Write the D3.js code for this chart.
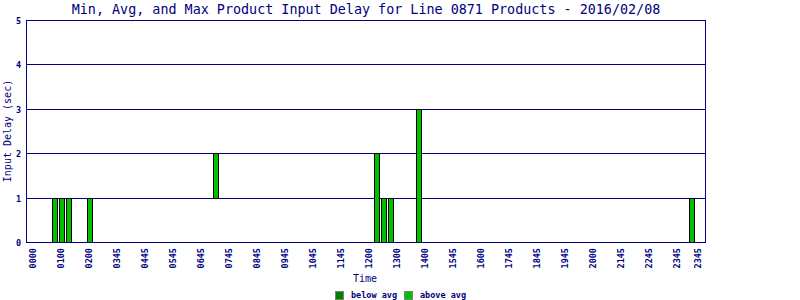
<!DOCTYPE html>
<html>
<head>
<meta charset="utf-8">
<script src="https://cdn.jsdelivr.net/npm/d3@7"></script>
<style>
  body { margin: 0; background: #ffffff; }
  svg { display: block; }
</style>
</head>
<body>
<svg id="svg_chart" width="800" height="300"></svg>
<script>

var chartTitle = "Min, Avg, and Max Product Input Delay for Line 0871 Products - 2016/02/08"
var slotCount = 96
var tickSlots  = [0, 4, 8, 12, 16, 20, 24, 28, 32, 36, 40, 44, 48, 52, 56, 60, 64, 68, 72, 76, 80, 84, 88, 92, 95]
var tickLabels = ["0000","0100","0200","0345","0445","0545","0645","0745","0845","0945","1045","1145",
                  "1200","1300","1400","1545","1600","1745","1845","1945","2000","2145","2245","2345","2345"]
var yTicks = [0, 1, 2, 3, 4, 5]

var barSlots = [3, 4, 5, 8, 26, 49, 50, 51, 55, 94]
var minVals  = [0, 0, 0, 0, 1, 0, 0, 0, 0, 0]
var avgVals  = [0, 0, 0, 0, 1, 0, 0, 0, 0, 0]
var maxVals  = [1, 1, 1, 1, 2, 2, 1, 1, 3, 1]

var legendNames  = ["below avg", "above avg"]
var legendColors = ["#008000", "#00c000"]

var navy = "#000080"
var mono = "'DejaVu Sans Mono', monospace"

var svg = d3.select("#svg_chart")

var plotLeft = 26, plotRight = 705, plotTop = 20, plotBottom = 242

var x = d3.scaleBand()
          .domain(d3.range(slotCount))
          .range([plotLeft + 4, plotRight - 3])

var y = d3.scaleLinear()
          .domain([0, 5])
          .range([plotBottom, plotTop])

var px = v => Math.round(v) + 0.5

svg.append("text")
   .attr("x", 366)
   .attr("y", 14)
   .attr("text-anchor", "middle")
   .attr("font-family", mono)
   .attr("font-size", "13.4px")
   .attr("fill", navy)
   .text(chartTitle)

// gridlines
svg.append("g")
   .selectAll("line")
   .data(yTicks)
   .enter().append("line")
   .attr("x1", plotLeft)
   .attr("x2", plotRight)
   .attr("y1", d => px(y(d)))
   .attr("y2", d => px(y(d)))
   .attr("stroke", navy)
   .attr("stroke-width", 1)

svg.append("g")
   .selectAll("text")
   .data(yTicks)
   .enter().append("text")
   .attr("x", 21)
   .attr("y", d => px(y(d)) + 3)
   .attr("text-anchor", "end")
   .attr("font-family", mono)
   .attr("font-size", "8.5px")
   .attr("font-weight", "bold")
   .attr("fill", navy)
   .text(d => d)

var bars = svg.append("g")

bars.selectAll("rect.below")
    .data(barSlots.map((d, i) => i).filter(i => avgVals[i] > minVals[i]))
    .enter().append("rect")
    .attr("class", "below")
    .attr("x", i => px(x(barSlots[i]) + x.bandwidth() / 2 - 2.5))
    .attr("width", 5)
    .attr("y", i => px(y(avgVals[i])))
    .attr("height", i => px(y(minVals[i])) - px(y(avgVals[i])))
    .attr("fill", legendColors[0])
    .attr("stroke", "#000000")
    .attr("stroke-width", 1)

bars.selectAll("rect.above")
    .data(barSlots)
    .enter().append("rect")
    .attr("class", "above")
    .attr("x", d => px(x(d) + x.bandwidth() / 2 - 2.5))
    .attr("width", 5)
    .attr("y", (d, i) => px(y(maxVals[i])))
    .attr("height", (d, i) => px(y(avgVals[i])) - px(y(maxVals[i])))
    .attr("fill", legendColors[1])
    .attr("stroke", "#000000")
    .attr("stroke-width", 1)

svg.append("rect")
   .attr("x", plotLeft + 0.5)
   .attr("y", plotTop + 0.5)
   .attr("width", plotRight - plotLeft)
   .attr("height", plotBottom - plotTop)
   .attr("fill", "none")
   .attr("stroke", navy)
   .attr("stroke-width", 1)

svg.append("g")
   .selectAll("text")
   .data(tickSlots)
   .enter().append("text")
   .attr("transform", (d, i) => "translate(" + (x(d) + x.bandwidth() / 2 + 2.5) + "," + 248 + ") rotate(-90)")
   .attr("text-anchor", "end")
   .attr("font-family", mono)
   .attr("font-size", "8.5px")
   .attr("font-weight", "bold")
   .attr("fill", navy)
   .text((d, i) => tickLabels[i])

svg.append("text")
   .attr("x", 365)
   .attr("y", 282)
   .attr("text-anchor", "middle")
   .attr("font-family", mono)
   .attr("font-size", "10px")
   .attr("fill", navy)
   .text("Time")

svg.append("text")
   .attr("transform", "translate(11,131) rotate(-90)")
   .attr("text-anchor", "middle")
   .attr("font-family", mono)
   .attr("font-size", "10px")
   .attr("fill", navy)
   .text("Input Delay (sec)")

var legendX = [335, 404]

var legend = svg.append("g")
                .selectAll("g")
                .data(legendNames)
                .enter().append("g")
                .attr("transform", (d, i) => "translate(" + legendX[i] + ",291)")

legend.append("rect")
      .attr("x", 0.5)
      .attr("y", 0.5)
      .attr("width", 8)
      .attr("height", 8)
      .attr("fill", (d, i) => legendColors[i])
      .attr("stroke", "#808080")
      .attr("stroke-width", 1)

legend.append("text")
      .attr("x", 16)
      .attr("y", 7)
      .attr("font-family", mono)
      .attr("font-size", "8.5px")
      .attr("font-weight", "bold")
      .attr("fill", navy)
      .text(d => d)

</script>
</body>
</html>
